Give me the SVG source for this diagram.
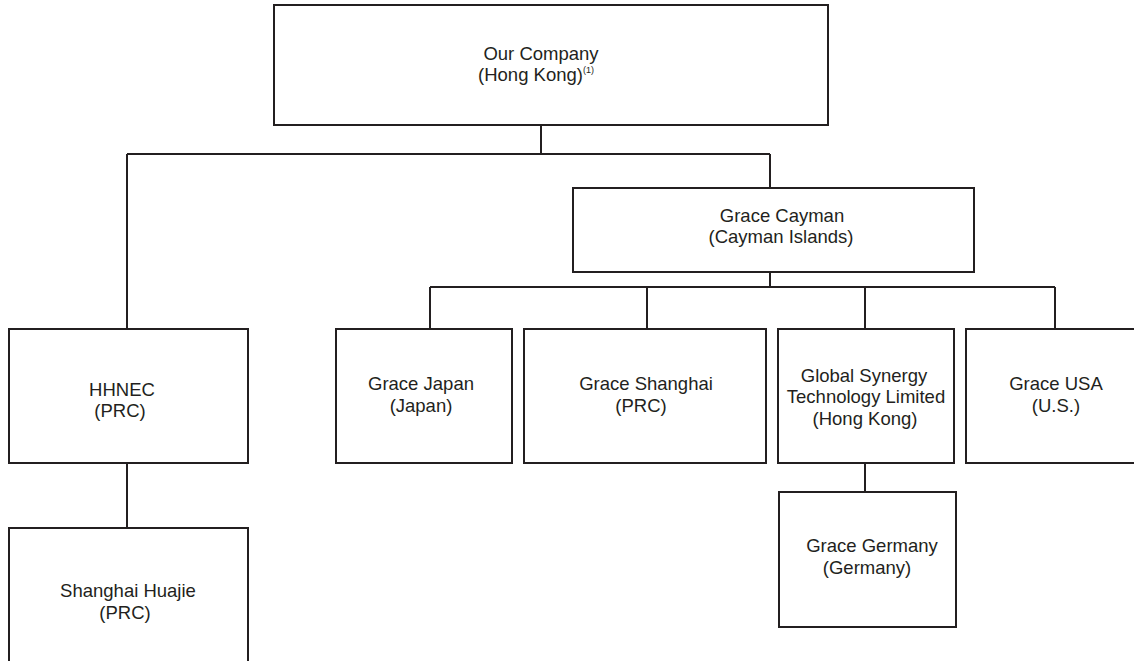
<svg xmlns="http://www.w3.org/2000/svg" width="1134" height="661" viewBox="0 0 1134 661">
<style>
.box{fill:#fff;stroke:#231f20;stroke-width:2}
.con{fill:none;stroke:#231f20;stroke-width:2}
text{font-family:"Liberation Sans",Arial,sans-serif;font-size:18.5px;fill:#231f20;text-anchor:middle}
.sup{font-size:9px}
</style>
<rect width="1134" height="661" fill="#fff"/>
<g id="connectors">
<path class="con" d="M541,125V154M127,154H770M127,154V329M770,154V188M770,272V287M430,287H1055M430,287V329M647,287V329M865,287V329M1055,287V329M127,463V528M865,463V492"/>
</g>
<g id="our-company">
<rect class="box" x="274" y="5" width="554" height="120"/>
<text x="541" y="60">Our Company</text>
<text x="536" y="81">(Hong Kong)<tspan class="sup" dy="-8">(1)</tspan></text>
</g>
<g id="grace-cayman">
<rect class="box" x="573" y="188" width="401" height="84"/>
<text x="782" y="222">Grace Cayman</text>
<text x="781" y="243">(Cayman Islands)</text>
</g>
<g id="hhnec">
<rect class="box" x="9" y="329" width="239" height="134"/>
<text x="122" y="396">HHNEC</text>
<text x="120" y="417">(PRC)</text>
</g>
<g id="grace-japan">
<rect class="box" x="336" y="329" width="176" height="134"/>
<text x="421" y="390">Grace Japan</text>
<text x="421" y="412">(Japan)</text>
</g>
<g id="grace-shanghai">
<rect class="box" x="524" y="329" width="242" height="134"/>
<text x="646" y="390">Grace Shanghai</text>
<text x="641" y="412">(PRC)</text>
</g>
<g id="global-synergy">
<rect class="box" x="778" y="329" width="176" height="134"/>
<text x="864" y="382">Global Synergy</text>
<text x="866" y="403">Technology Limited</text>
<text x="865" y="425">(Hong Kong)</text>
</g>
<g id="grace-usa">
<rect class="box" x="966" y="329" width="190" height="134"/>
<text x="1056" y="390">Grace USA</text>
<text x="1056" y="412">(U.S.)</text>
</g>
<g id="grace-germany">
<rect class="box" x="779" y="492" width="177" height="135"/>
<text x="872" y="552">Grace Germany</text>
<text x="867" y="574">(Germany)</text>
</g>
<g id="shanghai-huajie">
<rect class="box" x="9" y="528" width="239" height="160"/>
<text x="128" y="597">Shanghai Huajie</text>
<text x="125" y="619">(PRC)</text>
</g>
</svg>
